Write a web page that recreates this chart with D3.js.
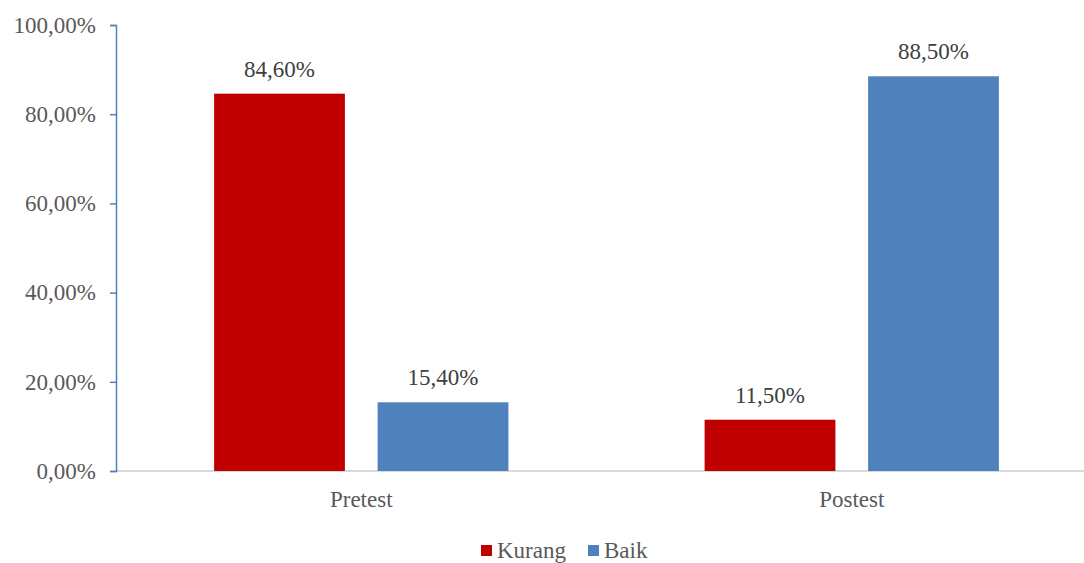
<!DOCTYPE html>
<html>
<head>
<meta charset="utf-8">
<script src="https://cdn.jsdelivr.net/npm/d3@7"></script>
<style>
  body { margin: 0; background: #fff; }
</style>
</head>
<body>
<div class="chart"></div>
<script>
// data
var categories = ["Pretest", "Postest"];
var seriesNames = ["Kurang", "Baik"];
var kurang = [84.6, 11.5];
var baik = [15.4, 88.5];
var yTicks = [0, 20, 40, 60, 80, 100];
var colors = ["#c00000", "#4f81bd"];

var serif = '"Times New Roman", "Liberation Serif", Tinos, "DejaVu Serif", serif';

var rows = categories.map((c, i) => ({ cat: c, values: [kurang[i], baik[i]] }));

var width = 1084, height = 563;
var svg = d3.select(".chart").append("svg")
    .attr("width", width)
    .attr("height", height)
    .style("font-family", serif);

var x0 = d3.scaleBand().domain(categories).range([116, 1097]);
var x1 = d3.scaleBand().domain(seriesNames)
    .range([0, x0.bandwidth()])
    .paddingInner(0.2)
    .paddingOuter(0.6);
var y = d3.scaleLinear().domain([0, 100]).range([471, 25]);

var fmt = (v) => v.toFixed(2).replace(".", ",") + "%";

// x axis baseline
svg.append("line")
    .attr("x1", 116).attr("x2", width)
    .attr("y1", y(0)).attr("y2", y(0))
    .style("stroke", "#d9d9d9")
    .style("stroke-width", "2px");

// y axis
var yAxis = svg.append("g")
    .attr("transform", "translate(116,0)")
    .call(d3.axisLeft(y).tickValues(yTicks).tickSize(6).tickSizeOuter(6).tickFormat(fmt))
    .attr("font-family", null)
    .attr("font-size", null);
yAxis.select(".domain").style("stroke", "#4f81bd").style("stroke-width", "1.5px");
yAxis.selectAll(".tick line").style("stroke", "#4f81bd").style("stroke-width", "1.5px");
yAxis.selectAll(".tick text")
    .attr("x", -20)
    .attr("dy", "0.32em")
    .style("font-family", serif)
    .style("font-size", "23px")
    .style("fill", "#595959");

// bars
var groups = svg.selectAll(".group")
    .data(rows)
    .enter()
    .append("g")
    .attr("transform", (d) => `translate(${x0(d.cat)},0)`);

groups.selectAll("rect")
    .data((d) => d.values.map((v, i) => ({ name: seriesNames[i], value: v, i: i })))
    .enter()
    .append("rect")
    .attr("x", (d) => x1(d.name))
    .attr("y", (d) => y(d.value))
    .attr("width", x1.bandwidth())
    .attr("height", (d) => y(0) - y(d.value))
    .style("fill", (d) => colors[d.i]);

groups.selectAll(".lbl")
    .data((d) => d.values.map((v, i) => ({ name: seriesNames[i], value: v })))
    .enter()
    .append("text")
    .attr("class", "lbl")
    .attr("x", (d) => x1(d.name) + x1.bandwidth() / 2)
    .attr("y", (d) => y(d.value) - 17)
    .attr("text-anchor", "middle")
    .style("font-family", serif)
    .style("font-size", "23px")
    .style("fill", "#404040")
    .text((d) => fmt(d.value));

// category labels
svg.selectAll(".cat")
    .data(categories)
    .enter()
    .append("text")
    .attr("x", (d) => x0(d) + x0.bandwidth() / 2)
    .attr("y", 507)
    .attr("text-anchor", "middle")
    .style("font-family", serif)
    .style("font-size", "23px")
    .style("fill", "#595959")
    .text((d) => d);

// legend
var legendX = [481, 588];
var legend = svg.selectAll(".legend")
    .data(seriesNames)
    .enter()
    .append("g")
    .attr("transform", (d, i) => `translate(${legendX[i]},545)`);
legend.append("rect")
    .attr("width", 11)
    .attr("height", 11)
    .style("fill", (d, i) => colors[i]);
legend.append("text")
    .attr("x", 16)
    .attr("y", 13)
    .style("font-family", serif)
    .style("font-size", "23px")
    .style("fill", "#595959")
    .text((d) => d);
</script>
</body>
</html>
